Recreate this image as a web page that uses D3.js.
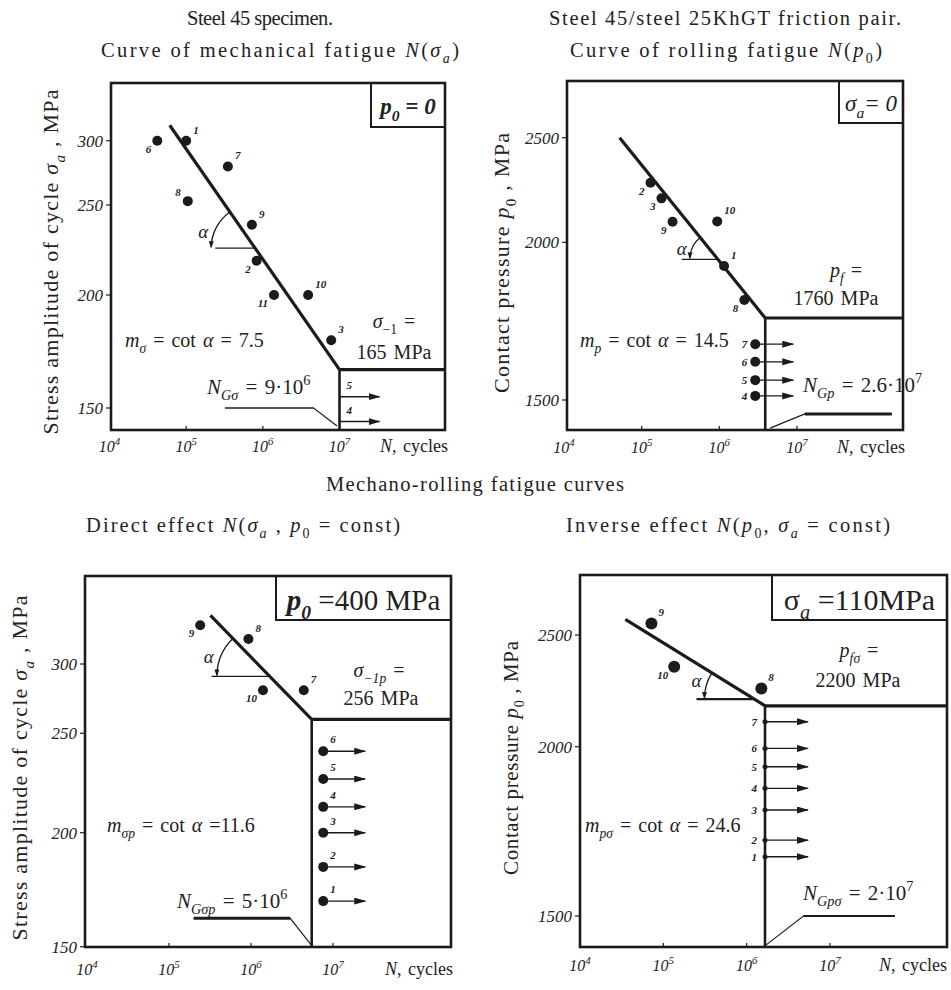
<!DOCTYPE html>
<html>
<head>
<meta charset="utf-8">
<script src="https://cdn.jsdelivr.net/npm/d3@7"></script>
<style>
  body { margin: 0; background: #fff; }
  text { font-family: "Liberation Serif", "DejaVu Serif", "Times New Roman", serif; fill: #222; }
</style>
</head>
<body>
<div id="chart"></div>
<script>
/* DATA */
const decades = [4, 5, 6, 7]            // x ticks, N = 10^k cycles
const sigmaTicks = [150, 200, 250, 300]  // MPa
const pressureTicks = [1500, 2000, 2500] // MPa

// steel 45 specimen, mechanical fatigue, p0 = 0
const mechLabel = ["6", "1", "7", "8", "9", "2", "11", "10", "3"]
const mechN = [4.2e4, 1.0e5, 3.5e5, 1.05e5, 7.2e5, 8.3e5, 1.4e6, 3.9e6, 7.8e6]
const mechSigma = [300, 300, 280, 253, 239, 219, 200, 200, 180]
const mechRunLabel = ["5", "4"]
const mechRunN = [1e7, 1e7]
const mechRunSigma = [155, 144]
const mechCurveN = [6.1e4, 1e7]
const mechCurveSigma = [312, 167]
const mechLeaderN = [3.2e5, 4.6e6, 9.3e6]
const mechLeaderSigma = [150, 150, 142]

// steel 45 / steel 25KhGT, rolling fatigue, sigma_a = 0
const rollLabel = ["2", "3", "9", "10", "1", "8"]
const rollN = [1.3e5, 1.8e5, 2.5e5, 9.4e5, 1.15e6, 2.1e6]
const rollP = [2285, 2210, 2098, 2100, 1925, 1817]
const rollRunLabel = ["7", "6", "5", "4"]
const rollRunN = [2.9e6, 2.9e6, 2.9e6, 2.9e6]
const rollRunP = [1677, 1621, 1563, 1513]
const rollCurveN = [5.2e4, 3.9e6]
const rollCurveP = [2500, 1760]
const rollLeaderN = [1.66e8, 1.26e7, 4.5e6]
const rollLeaderP = [1456, 1456, 1411]

// direct effect, p0 = 400 MPa
const directLabel = ["9", "8", "10", "7"]
const directN = [2.4e5, 9.3e5, 1.4e6, 4.4e6]
const directSigma = [328, 318, 281, 281]
const directRunLabel = ["6", "5", "4", "3", "2", "1"]
const directRunN = [7.6e6, 7.6e6, 7.6e6, 7.6e6, 7.6e6, 7.6e6]
const directRunSigma = [241, 227, 213, 200, 185, 170]
const directCurveN = [3.2e5, 5.5e6]
const directCurveSigma = [335, 260]
const directLeaderN = [2.0e5, 3.0e6, 5.5e6]
const directLeaderSigma = [162.5, 162.5, 150.5]

// inverse effect, sigma_a = 110 MPa
const inverseLabel = ["9", "10", "8"]
const inverseN = [7.2e4, 1.35e5, 1.5e6]
const inverseP = [2552, 2358, 2261]
const inverseRunLabel = ["7", "6", "5", "4", "3", "2", "1"]
const inverseRunN = [1.66e6, 1.66e6, 1.66e6, 1.66e6, 1.66e6, 1.66e6, 1.66e6]
const inverseRunP = [2112, 1995, 1941, 1877, 1813, 1724, 1675]
const inverseCurveN = [3.5e4, 1.25e6, 1.66e6]
const inverseCurveP = [2570, 2212, 2183]
const inverseLeaderN = [6.0e7, 4.8e6, 1.7e6]
const inverseLeaderP = [1500, 1500, 1414]

/* SETUP */
const width = 951, height = 990
const ink = "#1b1b1b"

const svg = d3.select("#chart").append("svg")
  .attr("width", width)
  .attr("height", height)

const defs = svg.append("defs")
defs.append("marker")
  .attr("id", "head")
  .attr("markerUnits", "userSpaceOnUse")
  .attr("markerWidth", 12).attr("markerHeight", 8)
  .attr("refX", 11).attr("refY", 3.5)
  .attr("orient", "auto")
  .append("path").attr("d", "M0,0 L12,3.5 L0,7 z").attr("fill", ink)
defs.append("marker")
  .attr("id", "tip")
  .attr("markerUnits", "userSpaceOnUse")
  .attr("markerWidth", 8).attr("markerHeight", 6)
  .attr("refX", 6).attr("refY", 2.5)
  .attr("orient", "auto")
  .append("path").attr("d", "M0,0 L7,2.5 L0,5 z").attr("fill", ink)

// text with italic / sub / sup pieces
function rich(sel, x, y, parts, size, anchor) {
  const t = sel.append("text")
    .attr("x", x).attr("y", y)
    .attr("font-size", size)
    .attr("text-anchor", anchor || "start")
  let shift = 0
  parts.forEach(p => {
    const o = typeof p === "string" ? { t: p } : p
    const ts = t.append("tspan").text(o.t)
    const target = o.sub ? size * 0.3 : o.sup ? -size * 0.42 : 0
    if (target !== shift) { ts.attr("dy", target - shift); shift = target }
    if (o.sub || o.sup) ts.attr("font-size", size * 0.68)
    if (o.i) ts.attr("font-style", "italic")
    if (o.b) ts.attr("font-weight", "bold")
  })
  return t
}

// the scan is letter-spaced, so long captions are stretched to their printed width
function spread(t, w) {
  return t.attr("textLength", w).attr("lengthAdjust", "spacing")
}

const sideOffset = {
  rt: [7, -7, "start"],
  lb: [-6, 12, "end"],
  lt: [-7, -5, "end"],
  l: [-8, 4, "end"],
  t: [7, -8, "start"]
}

function drawPanel(c) {
  const g = svg.append("g")
  const f = c.frame

  // + SCALES
  const x = d3.scaleLog().domain([1e4, 1e7]).range([c.x4, c.x7])
  // the printed y axis is not evenly spaced, so pin the scale to its ticks
  const y = d3.scaleLinear().domain(c.yTicks).range(c.yTickPx)

  // frame and corner box
  g.append("rect")
    .attr("x", f.l).attr("y", f.t)
    .attr("width", f.r - f.l).attr("height", f.b - f.t)
    .attr("fill", "none").attr("stroke", ink).attr("stroke-width", 2.6)
  g.append("rect")
    .attr("x", c.box.l).attr("y", f.t)
    .attr("width", f.r - c.box.l).attr("height", c.box.b - f.t)
    .attr("fill", "none").attr("stroke", ink).attr("stroke-width", 2)
  rich(g, (c.box.l + f.r) / 2, c.box.base, c.box.parts, c.box.size, "middle")

  // y ticks
  g.selectAll(".ytick").data(c.yTicks).join("line")
    .attr("x1", f.l - 5).attr("x2", f.l)
    .attr("y1", d => y(d)).attr("y2", d => y(d))
    .attr("stroke", ink).attr("stroke-width", 1.2)
  g.selectAll(".ylab").data(c.yTicks).join("text")
    .attr("x", f.l - 8).attr("y", d => y(d) + 6)
    .attr("text-anchor", "end")
    .attr("font-size", 17).attr("font-style", "italic")
    .text(d => d)

  // x ticks
  g.selectAll(".xtick").data(decades.slice(1)).join("line")
    .attr("x1", d => x(10 ** d)).attr("x2", d => x(10 ** d))
    .attr("y1", f.b).attr("y2", f.b - 4)
    .attr("stroke", ink).attr("stroke-width", 1.2)
  decades.forEach(d => {
    rich(g, x(10 ** d), c.xLabY, [{ t: "10", i: 1 }, { t: String(d), sup: 1, i: 1 }], 16, "middle")
  })
  rich(g, f.r + c.nDx, c.xLabY, [{ t: "N", i: 1 }, ", cycles"], 18, "end")
    .attr("word-spacing", 2)

  // axis title
  spread(rich(g, 0, 0, c.yTitle, c.yTitleSize, "middle"), c.yTitleW)
    .attr("transform", `translate(${c.yTitlePos[0]},${c.yTitlePos[1]}) rotate(-90)`)

  // panel heading
  c.heading.forEach((h, i) => spread(rich(g, c.headX[i], c.headY[i], h, 20.5, "middle"), c.headW[i]))

  // fatigue curve and knee
  const curve = d3.zip(c.curveN, c.curveV)
  const knee = curve[curve.length - 1]
  g.append("path")
    .datum(curve)
    .attr("d", d3.line().x(d => x(d[0])).y(d => y(d[1])))
    .attr("fill", "none").attr("stroke", ink).attr("stroke-width", 3.2)
    .attr("stroke-linejoin", "round")
  g.append("line")
    .attr("x1", x(knee[0])).attr("x2", f.r)
    .attr("y1", y(knee[1])).attr("y2", y(knee[1]))
    .attr("stroke", ink).attr("stroke-width", 3.2)
  g.append("line")
    .attr("x1", x(knee[0])).attr("x2", x(knee[0]))
    .attr("y1", y(knee[1])).attr("y2", f.b)
    .attr("stroke", ink).attr("stroke-width", 2.6)

  // angle alpha between curve and horizontal
  const p0 = [x(c.curveN[0]), y(c.curveV[0])]
  const p1 = [x(c.curveN[1]), y(c.curveV[1])]
  const yv = y(c.angleV)
  const xv = p0[0] + (yv - p0[1]) / (p1[1] - p0[1]) * (p1[0] - p0[0])
  g.append("line")
    .attr("x1", x(c.angleN)).attr("x2", xv)
    .attr("y1", yv).attr("y2", yv)
    .attr("stroke", ink).attr("stroke-width", c.angleW)
  const a = Math.atan2(p0[1] - yv, p0[0] - xv), r = c.arcR
  g.append("path")
    .attr("d", `M${xv + r * Math.cos(a)},${yv + r * Math.sin(a)} A${r},${r} 0 0 0 ${xv - r},${yv - 1}`)
    .attr("fill", "none").attr("stroke", ink).attr("stroke-width", 1.3)
    .attr("marker-end", "url(#tip)")
  g.append("text")
    .attr("x", xv - r - 8).attr("y", yv - r * 0.35 + 5)
    .attr("text-anchor", "middle")
    .attr("font-size", 19).attr("font-style", "italic")
    .text("α")

  // N_G leader
  const leader = d3.zip(c.leaderN, c.leaderV)
  g.append("path")
    .datum(leader)
    .attr("d", d3.line().x(d => x(d[0])).y(d => y(d[1])))
    .attr("fill", "none").attr("stroke", ink).attr("stroke-width", 1.2)
  g.append("line")
    .attr("x1", x(leader[0][0])).attr("x2", x(leader[1][0]))
    .attr("y1", y(leader[0][1])).attr("y2", y(leader[1][1]))
    .attr("stroke", ink).attr("stroke-width", c.leaderW)

  // broken specimens
  const pts = d3.zip(c.ptLabel, c.ptN, c.ptV)
  g.selectAll(".pt").data(pts).join("circle")
    .attr("cx", d => x(d[1])).attr("cy", d => y(d[2]))
    .attr("r", c.ptR).attr("fill", ink)
  g.selectAll(".ptlab").data(pts).join("text")
    .attr("x", (d, i) => x(d[1]) + sideOffset[c.ptSide[i]][0])
    .attr("y", (d, i) => y(d[2]) + sideOffset[c.ptSide[i]][1])
    .attr("text-anchor", (d, i) => sideOffset[c.ptSide[i]][2])
    .attr("font-size", 11).attr("font-style", "italic").attr("font-weight", "bold")
    .text(d => d[0])

  // run-outs (not broken)
  const runs = d3.zip(c.runLabel, c.runN, c.runV)
  const so = sideOffset[c.runSide]
  g.selectAll(".run").data(runs).join("line")
    .attr("x1", d => x(d[1])).attr("x2", d => x(d[1]) + c.runLen)
    .attr("y1", d => y(d[2])).attr("y2", d => y(d[2]))
    .attr("stroke", ink).attr("stroke-width", 1.4)
    .attr("marker-end", "url(#head)")
  g.selectAll(".rundot").data(runs).join("circle")
    .attr("cx", d => x(d[1])).attr("cy", d => y(d[2]))
    .attr("r", c.runR).attr("fill", ink)
  g.selectAll(".runlab").data(runs).join("text")
    .attr("x", d => x(d[1]) + so[0]).attr("y", d => y(d[2]) + so[1])
    .attr("text-anchor", so[2])
    .attr("font-size", 11).attr("font-style", "italic").attr("font-weight", "bold")
    .text(d => d[0])

  // annotations
  c.notes.forEach(n => rich(g, n.x, n.y, n.parts, n.size || 20, n.anchor).attr("word-spacing", 2))
}

const I = t => ({ t, i: 1 })
const S = t => ({ t, sub: 1, i: 1 })
const SU = t => ({ t, sub: 1 })

drawPanel({
  frame: { l: 111, r: 445, t: 83, b: 430 },
  box: { l: 371, b: 127, base: 114, size: 23,
    parts: [{ t: "p", i: 1, b: 1 }, { t: "0", sub: 1, i: 1, b: 1 }, { t: " = 0", i: 1, b: 1 }] },
  x4: 109.5, x7: 339.5, xLabY: 452, nDx: 3,
  yTicks: sigmaTicks, yTickPx: [408, 295, 205, 140.7],
  yTitle: ["Stress amplitude of cycle ", I("σ"), S("a"), " , MPa"], yTitleSize: 22,
  yTitlePos: [58, 262], yTitleW: 345,
  heading: [["Steel 45 specimen."], ["Curve of mechanical fatigue ", I("N"), "(", I("σ"), S("a"), ")"]],
  headX: [260, 280], headY: [25, 57], headW: [146, 358],
  curveN: mechCurveN, curveV: mechCurveSigma,
  angleV: 226, angleN: 2.4e5, angleW: 1.2, arcR: 44,
  leaderN: mechLeaderN, leaderV: mechLeaderSigma, leaderW: 1.2,
  ptLabel: mechLabel, ptN: mechN, ptV: mechSigma, ptR: 5,
  ptSide: ["lb", "rt", "rt", "lt", "rt", "lb", "lb", "rt", "rt"],
  runLabel: mechRunLabel, runN: mechRunN, runV: mechRunSigma, runR: 0, runLen: 40, runSide: "t",
  notes: [
    { x: 125, y: 347, parts: [I("m"), S("σ"), " = cot ", I("α"), " = 7.5"] },
    { x: 394, y: 328, anchor: "middle", parts: [I("σ"), SU("−1"), " ="] },
    { x: 394, y: 359, anchor: "middle", parts: ["165 MPa"] },
    { x: 207, y: 394, size: 21, parts: [I("N"), S("Gσ"), " = 9·10", { t: "6", sup: 1 }] }
  ]
})

drawPanel({
  frame: { l: 567, r: 903, t: 81, b: 430 },
  box: { l: 839, b: 123, base: 111, size: 23,
    parts: [I("σ"), S("a"), { t: "= 0", i: 1 }] },
  x4: 564, x7: 797, xLabY: 453, nDx: 2,
  yTitle: ["Contact pressure ", I("p"), SU("0"), " , MPa"], yTitleSize: 22,
  yTicks: pressureTicks, yTickPx: [400, 242.3, 137.7],
  yTitlePos: [509, 263], yTitleW: 260,
  heading: [["Steel 45/steel 25KhGT friction pair."], ["Curve of rolling fatigue ", I("N"), "(", I("p"), SU("0"), ")"]],
  headX: [725, 726], headY: [25, 57], headW: [352, 312],
  curveN: rollCurveN, curveV: rollCurveP,
  angleV: 1946, angleN: 3.3e5, angleW: 1.2, arcR: 28,
  leaderN: rollLeaderN, leaderV: rollLeaderP, leaderW: 3,
  ptLabel: rollLabel, ptN: rollN, ptV: rollP, ptR: 5,
  ptSide: ["lb", "lb", "lb", "rt", "rt", "lb"],
  runLabel: rollRunLabel, runN: rollRunN, runV: rollRunP, runR: 5, runLen: 38, runSide: "l",
  notes: [
    { x: 580, y: 347, parts: [I("m"), S("p"), " = cot ", I("α"), " = 14.5"] },
    { x: 846, y: 277, anchor: "middle", parts: [I("p"), S("f"), " ="] },
    { x: 836, y: 305, anchor: "middle", parts: ["1760 MPa"] },
    { x: 803, y: 392, size: 21, parts: [I("N"), S("Gp"), " = 2.6·10", { t: "7", sup: 1 }] }
  ]
})

spread(svg.append("text")
  .attr("x", 475).attr("y", 491)
  .attr("text-anchor", "middle").attr("font-size", 20.5)
  .text("Mechano-rolling fatigue curves"), 298)

drawPanel({
  frame: { l: 85, r: 451, t: 576, b: 947 },
  box: { l: 276, b: 620, base: 610, size: 29,
    parts: [{ t: "p", i: 1, b: 1 }, { t: "0", sub: 1, i: 1, b: 1 }, " =400 MPa"] },
  x4: 87, x7: 333, xLabY: 975, nDx: 2,
  yTicks: sigmaTicks, yTickPx: [946.7, 832.7, 733.3, 664],
  yTitle: ["Stress amplitude of cycle ", I("σ"), S("a"), " , MPa"], yTitleSize: 22,
  yTitlePos: [27, 768], yTitleW: 345,
  heading: [["Direct effect ", I("N"), "(", I("σ"), S("a"), " , ", I("p"), SU("0"), " = const)"]],
  headX: [243], headY: [532], headW: [314],
  curveN: directCurveN, curveV: directCurveSigma,
  angleV: 291, angleN: 3.3e5, angleW: 1.2, arcR: 53,
  leaderN: directLeaderN, leaderV: directLeaderSigma, leaderW: 3,
  ptLabel: directLabel, ptN: directN, ptV: directSigma, ptR: 5,
  ptSide: ["lb", "rt", "lb", "rt"],
  runLabel: directRunLabel, runN: directRunN, runV: directRunSigma, runR: 5, runLen: 42, runSide: "t",
  notes: [
    { x: 107, y: 832, parts: [I("m"), S("σp"), " = cot ", I("α"), " =11.6"] },
    { x: 379, y: 677, anchor: "middle", parts: [I("σ"), S("−1p"), " ="] },
    { x: 381, y: 705, anchor: "middle", parts: ["256 MPa"] },
    { x: 177, y: 908, size: 21, parts: [I("N"), S("Gσp"), " = 5·10", { t: "6", sup: 1 }] }
  ]
})

drawPanel({
  frame: { l: 580, r: 947, t: 575, b: 947 },
  box: { l: 772, b: 620, base: 610, size: 30,
    parts: ["σ", S("a"), " =110MPa"] },
  x4: 580, x7: 830, xLabY: 971, nDx: 0,
  yTicks: pressureTicks, yTickPx: [916, 746.7, 635],
  yTitle: ["Contact pressure ", I("p"), SU("0"), " , MPa"], yTitleSize: 21,
  yTitlePos: [518, 758], yTitleW: 234,
  heading: [["Inverse effect ", I("N"), "(", I("p"), SU("0"), ", ", I("σ"), S("a"), " = const)"]],
  headX: [728], headY: [532], headW: [324],
  curveN: inverseCurveN, curveV: inverseCurveP,
  angleV: 2213, angleN: 2.5e5, angleW: 2.2, arcR: 50,
  leaderN: inverseLeaderN, leaderV: inverseLeaderP, leaderW: 2,
  ptLabel: inverseLabel, ptN: inverseN, ptV: inverseP, ptR: 6,
  ptSide: ["rt", "lb", "rt"],
  runLabel: inverseRunLabel, runN: inverseRunN, runV: inverseRunP, runR: 2.5, runLen: 43, runSide: "l",
  notes: [
    { x: 585, y: 832, parts: [I("m"), S("pσ"), " = cot ", I("α"), " = 24.6"] },
    { x: 859, y: 657, anchor: "middle", parts: [I("p"), S("fσ"), " ="] },
    { x: 858, y: 687, anchor: "middle", parts: ["2200 MPa"] },
    { x: 803, y: 900, size: 21, parts: [I("N"), S("Gpσ"), " = 2·10", { t: "7", sup: 1 }] }
  ]
})
</script>
</body>
</html>
